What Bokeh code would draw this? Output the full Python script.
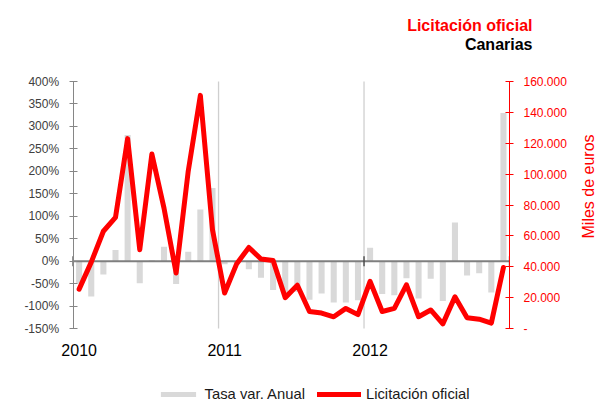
from bokeh.plotting import figure
from bokeh.models import (Range1d, LinearAxis, FixedTicker, PrintfTickFormatter,
                          Title, Legend, LegendItem, ColumnDataSource)
from bokeh.embed import file_html
from bokeh.resources import INLINE

# ---- data ----
meses = ["ene", "feb", "mar", "abr", "may", "jun", "jul", "ago", "sep", "oct", "nov", "dic"]
anios = [2010, 2011, 2012]
periodos = [f"{m}-{a}" for a in anios for m in meses]

tasa_var_anual = [-50, -79, -30, 25, 281, -49, 2, 32, -51, 21, 115, 163,
                  -7, -5, -18, -37, -64, -75, -68, -86, -72, -92, -92, -87,
                  30, -73, -76, -38, -83, -39, -89, 86, -32, -27, -70, 330]

licitacion = [25500, 43000, 63000, 72000, 123000, 51000, 113000, 78000, 36000, 102000, 151000, 64000,
              23000, 42000, 52500, 45000, 44000, 20000, 28000, 11000, 10000, 7600, 13000, 9000,
              30500, 11000, 13000, 28300, 7600, 12000, 3000, 20500, 7000, 6000, 3500, 39500]

pct_ticks = [-150, -100, -50, 0, 50, 100, 150, 200, 250, 300, 350, 400]
miles_ticks = [0, 20000, 40000, 60000, 80000, 100000, 120000, 140000, 160000]
miles_labels = ["-", "20.000", "40.000", "60.000", "80.000", "100.000", "120.000", "140.000", "160.000"]

FONT = "Liberation Sans"
RED = "#FF0000"
GRAY_BAR = "#D9D9D9"

# ---- layout constants (pixels) ----
W, H = 608, 405
AXES_TOP, LEFT, RIGHT = 81, 73, 96
PAD_TOP = 10                     # frame starts a little above the axes so top labels are not cut
TOP = AXES_TOP - PAD_TOP
AXIS_PX = 247                    # pixel height of the value axes
EXTRA_PX = H - AXES_TOP - AXIS_PX  # frame extends below the axes for year labels + legend
PLOT_PX = W - LEFT - RIGHT       # pixel width of the month area

pmin, pmax = min(pct_ticks), max(pct_ticks)
mmin, mmax = min(miles_ticks), max(miles_ticks)
pct_per_px = (pmax - pmin) / AXIS_PX
mil_per_px = (mmax - mmin) / AXIS_PX

n = len(periodos)
xmin, xmax = -0.5, n - 0.5
month_per_px = (xmax - xmin) / PLOT_PX

idx = list(range(n))
src = ColumnDataSource(dict(x=idx, periodo=periodos, tasa=tasa_var_anual, lic=licitacion))

p = figure(width=W, height=H, output_backend="svg", toolbar_location=None,
           x_axis_location=None,
           x_range=Range1d(xmin - LEFT * month_per_px, xmax),
           y_range=Range1d(pmin - EXTRA_PX * pct_per_px, pmax + PAD_TOP * pct_per_px),
           min_border_left=0, min_border_right=RIGHT, min_border_top=TOP, min_border_bottom=0)
p.outline_line_color = None
p.xgrid.grid_line_color = None
p.ygrid.grid_line_color = None
p.extra_y_ranges = {"miles": Range1d(mmin - EXTRA_PX * mil_per_px, mmax + PAD_TOP * mil_per_px)}

# year positions (first month of each year) and boundaries
year_starts = [i for i, per in enumerate(periodos) if per.startswith(meses[0])]
year_bounds = [s - 0.5 for s in year_starts[1:]]

# vertical year separators
p.segment(x0=year_bounds, x1=year_bounds, y0=[pmin] * len(year_bounds), y1=[pmax] * len(year_bounds),
          line_color="#cfcfcf", line_width=1.3)

# left axis, fixed at the first month edge
ya = p.yaxis[0]
ya.fixed_location = xmin
ya.bounds = (pmin, pmax)
ya.ticker = FixedTicker(ticks=pct_ticks)
ya.formatter = PrintfTickFormatter(format="%d%%")
ya.axis_line_color = "#868686"
ya.major_tick_line_color = "#868686"
ya.minor_tick_line_color = None
ya.major_tick_in = 4
ya.major_tick_out = 4
ya.major_label_standoff = 10
ya.major_label_text_font = FONT
ya.major_label_text_font_size = "12px"
ya.major_label_text_color = "#404040"

# right axis
ra = LinearAxis(y_range_name="miles")
ra.bounds = (mmin, mmax)
ra.ticker = FixedTicker(ticks=miles_ticks)
ra.major_label_overrides = dict(zip(miles_ticks, miles_labels))
ra.axis_line_color = RED
ra.major_tick_line_color = RED
ra.minor_tick_line_color = None
ra.major_tick_in = 4
ra.major_tick_out = 4
ra.major_label_standoff = 10
ra.major_label_text_font = FONT
ra.major_label_text_font_size = "12px"
ra.major_label_text_color = RED
ra.axis_label = "Miles de euros"
ra.axis_label_text_font = FONT
ra.axis_label_text_font_style = "normal"
ra.axis_label_text_font_size = "16px"
ra.axis_label_text_color = RED
ra.axis_label_standoff = 19
ra.axis_label_orientation = 3.141592653589793 / 2
p.add_layout(ra, "right")

# year axis, fixed at the bottom of the value axes
xa = LinearAxis(fixed_location=pmin)
xa.ticker = FixedTicker(ticks=year_starts)
xa.major_label_overrides = {s: str(a) for s, a in zip(year_starts, anios)}
xa.axis_line_color = None
xa.major_tick_line_color = None
xa.minor_tick_line_color = None
xa.major_tick_out = 0
xa.major_tick_in = 0
xa.major_label_standoff = 15
xa.major_label_text_font = FONT
xa.major_label_text_font_size = "16px"
xa.major_label_text_color = "#000000"
p.add_layout(xa, "below")

# bars
bars = p.vbar(x="x", top="tasa", bottom=0, width=0.5, source=src,
              fill_color=GRAY_BAR, line_color=None)

# zero line with year-boundary ticks
p.segment(x0=[xmin], x1=[xmax], y0=[0], y1=[0], line_color="#7f7f7f", line_width=2)
cross = [xmin] + year_bounds + [xmax]
tick_half = 5 * pct_per_px
p.segment(x0=cross, x1=cross, y0=[-tick_half] * len(cross), y1=[tick_half] * len(cross),
          line_color="#404040", line_width=1.3)

# line
ln = p.line(x="x", y="lic", source=src, y_range_name="miles",
            line_color=RED, line_width=5, line_join="round", line_cap="round")

# titles (first added sits nearest the plot)
p.add_layout(Title(text=" ", text_font_size="2px", standoff=24 - PAD_TOP), "above")
p.add_layout(Title(text="Canarias", align="right", offset=-23, standoff=0, vertical_align="middle",
                   text_font=FONT, text_font_size="16px", text_font_style="bold",
                   text_color="#000000"), "above")
p.add_layout(Title(text="Licitación oficial", align="right", offset=-23, standoff=0, vertical_align="middle",
                   text_font=FONT, text_font_size="16px", text_font_style="bold",
                   text_color=RED), "above")

# legend
legend = Legend(items=[LegendItem(label="Tasa var. Anual", renderers=[bars]),
                       LegendItem(label="Licitación oficial", renderers=[ln])],
                location=(155.6, 3), orientation="horizontal",
                glyph_width=44, glyph_height=6, label_height=14, label_standoff=5, spacing=12,
                padding=0, margin=0, border_line_color=None, background_fill_alpha=0,
                label_text_font=FONT, label_text_font_size="14.8px", label_text_color="#1a1a1a")
p.add_layout(legend, "center")

open("out.html", "w").write(file_html(p, INLINE))
